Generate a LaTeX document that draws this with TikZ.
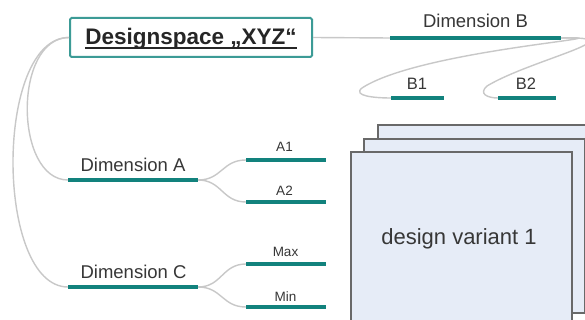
\documentclass[tikz,border=0pt]{standalone}
\usepackage{fontspec}
\setmainfont{Liberation Sans}
\definecolor{tealbar}{RGB}{18,130,125}
\definecolor{tealbox}{RGB}{60,155,150}
\definecolor{curvegray}{RGB}{200,200,200}
\definecolor{txtgray}{RGB}{55,55,55}
\definecolor{vfill}{RGB}{230,236,247}
\definecolor{vborder}{RGB}{105,105,105}
\newcommand\ttlul[1]{\setbox0\hbox{#1}\rlap{\rule[-4pt]{\wd0}{1.8pt}}\box0}
\tikzset{
  bar/.style={draw=tealbar, line width=4.5pt},
  conn/.style={draw=curvegray, line width=1.4pt},
  dimlbl/.style={font=\fontsize{18.5}{20}\selectfont, text=txtgray, anchor=base, inner sep=0pt},
  sublbl/.style={font=\fontsize{13.5}{15}\selectfont, text=txtgray, anchor=base, inner sep=0pt},
  blbl/.style={font=\fontsize{16.5}{18}\selectfont, text=txtgray, anchor=base, inner sep=0pt},
  variant/.style={draw=vborder, fill=vfill, line width=1.8pt, anchor=north west, inner sep=0pt},
}
\begin{document}
\begin{tikzpicture}[x=1pt,y=-1pt]
\useasboundingbox (0,0) rectangle (585,320);
\clip (0,0) rectangle (585,320);
\fill[white] (0,0) rectangle (585,320);

% design variant stack
\node[variant, minimum width=221pt, minimum height=175pt] (v3) at (377,124) {};
\node[variant, minimum width=221pt, minimum height=174pt] (v2) at (363,138) {};
\node[variant, minimum width=221pt, minimum height=175pt] (v1) at (350,151) {};
\node[font=\fontsize{22}{24}\selectfont, text=txtgray, anchor=base, inner sep=0pt] (vt) at (459,244) {design variant 1};

% title
\node[draw=tealbox, line width=2pt, fill=white, rounded corners=1.5pt,
      minimum width=242pt, minimum height=39pt, inner sep=0pt,
      text height=22pt, text depth=7pt, text=black!85] (title) at (191,37.5)
      {\fontsize{22.5}{24}\selectfont\bfseries\ttlul{Designspace „XYZ“}};

% bar coordinates
\coordinate (dBl) at (390,38);  \coordinate (dBr) at (561,38);
\coordinate (b1l) at (391,98);  \coordinate (b1r) at (444,98);
\coordinate (b2l) at (498,98);  \coordinate (b2r) at (556,98);
\coordinate (b1m) at (362,88);  \coordinate (b2m) at (487,86);
\coordinate (dAl) at (68,180);  \coordinate (dAr) at (198,180);
\coordinate (dCl) at (68,287);  \coordinate (dCr) at (198,287);
\coordinate (a1l) at (246,160); \coordinate (a1r) at (326,160);
\coordinate (a2l) at (246,202); \coordinate (a2r) at (326,202);
\coordinate (mxl) at (246,264); \coordinate (mxr) at (326,264);
\coordinate (mnl) at (246,307); \coordinate (mnr) at (326,307);

% connectors
\draw[conn] (title.east) -- (dBl);
\draw[conn] (title.west) .. controls +(-56,0) and +(-54,0) .. (dAl);
\draw[conn] (title.west) .. controls +(-75,0) and +(-73,0) .. (dCl);
\draw[conn] (dBr) .. controls +(80,-2) and +(58,-38) .. (b1m) .. controls +(-10,8) and +(-16,0) .. (b1l);
\draw[conn] (dBr) .. controls +(80,-2) and +(43,-26) .. (b2m) .. controls +(-9,8) and +(-10,0) .. (b2l);
\draw[conn] (dAr) .. controls +(24,0) and +(-24,0) .. (a1l);
\draw[conn] (dAr) .. controls +(24,0) and +(-24,0) .. (a2l);
\draw[conn] (dCr) .. controls +(24,0) and +(-24,0) .. (mxl);
\draw[conn] (dCr) .. controls +(24,0) and +(-24,0) .. (mnl);

% bars
\draw[bar] (dBl) -- (dBr);
\draw[bar] (b1l) -- (b1r);
\draw[bar] (b2l) -- (b2r);
\draw[bar] (dAl) -- (dAr);
\draw[bar] (dCl) -- (dCr);
\draw[bar] (a1l) -- (a1r);
\draw[bar] (a2l) -- (a2r);
\draw[bar] (mxl) -- (mxr);
\draw[bar] (mnl) -- (mnr);

% labels
\node[dimlbl] (tB) at (475.5,28) {Dimension B};
\node[blbl] (tB1) at (417,90) {B1};
\node[blbl] (tB2) at (526,90) {B2};
\node[dimlbl] (tA) at (133,172) {Dimension A};
\node[dimlbl] (tC) at (133.5,278) {Dimension C};
\node[sublbl] (tA1) at (284.5,152) {A1};
\node[sublbl] (tA2) at (284.5,196) {A2};
\node[sublbl] (tMax) at (285.5,256.5) {Max};
\node[sublbl] (tMin) at (285.5,301.5) {Min};
\end{tikzpicture}
\end{document}
